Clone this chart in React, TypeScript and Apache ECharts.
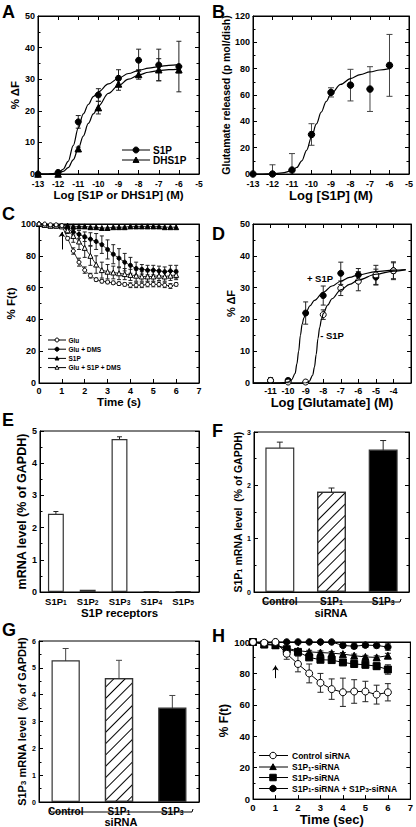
import React, { useEffect, useRef } from 'react';
import * as echarts from 'echarts';

const FONT = '"Liberation Sans", Arial, Helvetica, sans-serif';

// ---------- Panel A ----------
const A_X = [-13, -12, -11, -10, -9, -8, -7, -6];
const A_S1P = [0, 0.5, 16.5, 25, 30.3, 36, 34.5, 34];
const A_S1P_ERR = [0, 0, 2, 2, 2.7, 3.5, 5, 8];
const A_DHS1P = [0, 0, 8, 21, 28.5, 31.5, 33, 33];
const A_DHS1P_ERR = [0, 0, 0.5, 2, 2, 1.5, 3.5, 1];
const A_FIT_X = [-13, -12.5, -12, -11.75, -11.5, -11.25, -11, -10.75, -10.5, -10.25, -10, -9.5, -9, -8.5, -8, -7.5, -7, -6.5, -6];
const A_S1P_FIT = [0, 0, 0.3, 1.5, 4, 9, 14.5, 19, 22, 24.5, 26, 28.5, 30.3, 31.8, 32.8, 33.5, 34, 34.4, 34.6];
const A_DHS1P_FIT = [0, 0, 0.3, 0.8, 2, 4.5, 8, 12, 16, 19, 21.5, 25.5, 28, 30, 31.3, 32.2, 32.7, 33, 33.2];

// ---------- Panel B ----------
const B_X = [-13, -12, -11, -10, -9, -8, -7, -6];
const B_VAL = [0, 0, 3, 30, 62, 67.5, 64.5, 82.5];
const B_ERR = [0, 7, 12.5, 8.2, 3.5, 12, 17, 23.5];
const B_FIT_X = [-13, -12.5, -12, -11.5, -11, -10.75, -10.5, -10.25, -10, -9.75, -9.5, -9.25, -9, -8.5, -8, -7.5, -7, -6.5, -6];
const B_FIT = [0, 0, 0.2, 0.8, 2.5, 5, 10, 18, 28, 38, 47, 55, 61, 68, 72.5, 75.5, 77.5, 79, 80];

// ---------- Panel C ----------
const C_T = [0, 0.25, 0.5, 0.75, 1, 1.25, 1.5, 1.75, 2, 2.25, 2.5, 2.75, 3, 3.25, 3.5, 3.75, 4, 4.25, 4.5, 4.75, 5, 5.25, 5.5, 5.75, 6];
const C_GLU = [100, 100, 99.5, 99.5, 99, 91, 83, 76, 71, 67.5, 65, 64, 63.5, 63, 62.5, 62, 61.5, 61.5, 61.5, 62, 62, 62, 61.5, 61, 62];
const C_GLU_ERR = [0, 0, 0, 0, 0, 1, 2, 2.5, 2, 1.5, 1, 1, 1, 1, 1, 1, 1.5, 1.5, 1.5, 1.5, 1.5, 1.5, 1.5, 1.5, 1];
const C_DMS = [100, 99.5, 99, 99, 99, 97, 95, 93.5, 92, 90.5, 89, 87, 84, 81, 78.5, 76, 74, 72, 71.5, 71, 71, 70.5, 70, 70.5, 70];
const C_DMS_ERR = [0, 0, 0, 0, 0, 1.5, 2, 2.5, 3, 4, 5, 5.5, 6, 6, 6, 5.5, 5, 4, 3, 3, 3, 3, 3, 3.5, 4];
const C_S1P = [100, 99.5, 99, 99, 99, 99, 98.5, 98.5, 98.5, 98, 98, 97.5, 97.5, 98, 98, 98, 98.5, 98.5, 98.5, 98.5, 98.5, 98.5, 98, 98, 98];
const C_MIX = [100, 99.5, 99, 99, 98.5, 96, 92.5, 89, 85, 80, 74.5, 71, 70, 69.5, 69, 68.5, 68, 67.5, 67, 67, 67, 67.5, 67, 67.5, 68];
const C_MIX_ERR = [0, 0, 0, 0, 0, 2, 4, 5, 6, 6, 5.5, 5, 4.5, 4, 4, 3.5, 3.5, 3.5, 3, 3, 3, 3, 3, 3, 3];
const C_ARROW = [1, 84, 95];
const C_LEGEND = ['Glu', 'Glu + DMS', 'S1P', 'Glu + S1P + DMS'];

// ---------- Panel D ----------
const D_X = [-11, -10, -9, -8, -7, -6, -5, -4];
const D_MINUS = [0.8, 0.3, 0.3, 21.5, 29.8, 32, 34, 35.3];
const D_MINUS_ERR = [0.8, 0.5, 0.3, 1.5, 2.3, 3, 3, 2.8];
const D_PLUS = [0.8, 0.8, 22, 27.5, 34.5, 34, 33.3, 35.3];
const D_PLUS_ERR = [0.8, 0.5, 3.5, 3, 3.5, 2, 2.5, 2.5];
const D_PLUS_FIT_X = [-12, -10.5, -10, -9.8, -9.6, -9.5, -9.4, -9.3, -9.2, -9.1, -9, -8.75, -8.5, -8, -7.5, -7, -6.5, -6, -5, -4, -3.3];
const D_PLUS_FIT = [0, 0, 0.3, 1, 3, 6, 10, 15, 18.5, 20.5, 22, 24.3, 26, 28.5, 30.5, 32, 33.2, 34, 35, 35.5, 35.7];
const D_MINUS_FIT_X = [-12, -9, -8.8, -8.6, -8.5, -8.4, -8.3, -8.2, -8.1, -8, -7.75, -7.5, -7, -6.5, -6, -5, -4, -3.3];
const D_MINUS_FIT = [0, 0, 0.5, 2.5, 5, 9, 14, 17.5, 20, 21.8, 24.5, 26.5, 29.3, 31, 32.4, 34.2, 35.2, 35.6];

// ---------- Panel E ----------
const E_CATS = ['S1P1', 'S1P2', 'S1P3', 'S1P4', 'S1P5'];
const E_VAL = [2.43, 0.07, 4.75, 0.02, 0.02];
const E_ERR = [0.07, 0, 0.07, 0, 0];

// ---------- Panel F ----------
const F_CATS = ['Control', 'S1P1', 'S1P3'];
const F_VAL = [2.71, 1.88, 2.67];
const F_ERR = [0.1, 0.07, 0.17];

// ---------- Panel G ----------
const G_CATS = ['Control', 'S1P1', 'S1P3'];
const G_VAL = [5.28, 4.62, 3.52];
const G_ERR = [0.44, 0.66, 0.45];

// ---------- Panel H ----------
const H_T = [0, 0.5, 1, 1.5, 2, 2.5, 3, 3.5, 4, 4.5, 5, 5.5, 6];
const H_CTRL = [100, 99.5, 100, 92.5, 86, 80, 74, 70, 68, 68.5, 68.5, 66.5, 68];
const H_CTRL_ERR = [0, 0, 0, 3.5, 5, 6, 6, 6.5, 9, 7.5, 6.5, 6, 5.5];
const H_S1P1 = [100, 98.5, 98, 96, 94.5, 93.7, 93.3, 92.9, 92.3, 91.3, 90.5, 90.2, 91.3];
const H_S1P1_ERR = [0, 0, 0, 1, 1, 1, 1, 1, 1, 1, 1, 1, 1.5];
const H_S1P3 = [100, 98.5, 98, 95.4, 93.7, 90.2, 88.7, 88.5, 87, 86, 85.5, 84.6, 82.5];
const H_S1P3_ERR = [0, 0, 0, 1, 1.5, 1.5, 1, 1, 1.5, 1.5, 2, 2, 3];
const H_BOTH = [100, 99, 100, 100, 100, 100, 100, 100, 97.8, 97.3, 98, 97.8, 96.8];
const H_BOTH_ERR = [0, 0, 0, 0, 0, 0, 0, 0, 1, 1.5, 1.5, 1.5, 2];
const H_ARROW = [1, 77, 85];
const H_LEGEND = ['Control siRNA', 'S1P{s|1}-siRNA', 'S1P{s|3}-siRNA', 'S1P{s|1}-siRNA + S1P{s|3}-siRNA'];

// ---------- layout ----------
const GRIDS = [
  { left: 38, top: 16, width: 161, height: 158 },
  { left: 253, top: 16, width: 159, height: 158 },
  { left: 39, top: 224, width: 160, height: 159 },
  { left: 253, top: 224, width: 158, height: 159 },
  { left: 40, top: 431, width: 159, height: 161 },
  { left: 254, top: 432, width: 155, height: 160 },
  { left: 39, top: 641, width: 160, height: 161 },
  { left: 253, top: 642, width: 160, height: 159 },
];

const subStyle = (fs: number) => ({
  fontSize: fs, fontFamily: FONT, fontWeight: 'bold', color: '#000', verticalAlign: 'bottom', lineHeight: fs,
});
const subText = (s: string) => s.replace(/(\d)$/, '{s|$1}');

function valueAxis(gi: number, position: string, c: any, main: boolean) {
  const isY = position === 'left' || position === 'right';
  return {
    type: 'value', gridIndex: gi, position, min: c.min, max: c.max, interval: c.interval,
    axisLine: { show: true, onZero: false, lineStyle: { color: '#000', width: 1 } },
    axisTick: { show: true, inside: true, length: 4, lineStyle: { color: '#000', width: 1 } },
    minorTick: { show: !!c.minor, splitNumber: c.minor || 2, length: 2.5, lineStyle: { color: '#000', width: 1 } },
    splitLine: { show: false },
    axisLabel: main
      ? { show: true, color: '#000', fontFamily: FONT, fontWeight: 'bold', fontSize: c.fs ?? 9, margin: c.margin ?? 3, formatter: c.fmt }
      : { show: false },
    name: main ? c.name : '',
    nameLocation: 'middle', nameGap: c.gap ?? 15, nameRotate: isY ? 90 : 0,
    nameTextStyle: { color: '#000', fontFamily: FONT, fontWeight: 'bold', fontSize: c.nfs ?? 11.5, rich: { s: subStyle((c.nfs ?? 11.5) * 0.7) } },
    silent: true,
  };
}

function catAxis(gi: number, cats: string[], main: boolean, c: any) {
  return {
    type: 'category', gridIndex: gi, position: main ? 'bottom' : 'top', data: cats, boundaryGap: true, show: main,
    axisLine: { show: true, lineStyle: { color: '#000', width: 1 } },
    axisTick: { show: false },
    axisLabel: {
      color: '#000', fontFamily: FONT, fontWeight: 'bold', fontSize: c.fs, margin: c.margin ?? 4, interval: 0,
      formatter: (v: string) => subText(v), rich: { s: subStyle(c.fs * 0.7) },
    },
    name: c.name, nameLocation: 'middle', nameGap: c.gap ?? 14,
    nameTextStyle: { color: '#000', fontFamily: FONT, fontWeight: 'bold', fontSize: c.nfs ?? 11.5 },
    silent: true,
  };
}

const pairs = (xs: number[], ys: number[]) => xs.map((x, i) => [x, ys[i]]);
const errData = (xs: number[], ys: number[], es: number[]) =>
  xs.map((x, i) => [x, ys[i] - es[i], ys[i] + es[i]]).filter((_, i) => es[i] > 0);

function errSeries(gi: number, data: number[][], cap: number, color = '#222') {
  return {
    type: 'custom', xAxisIndex: gi * 2, yAxisIndex: gi * 2, data, clip: true, silent: true,
    encode: { x: 0, y: [1, 2] },
    renderItem: (_p: any, api: any) => {
      const x = api.value(0), lo = api.value(1), hi = api.value(2);
      const a = api.coord([x, lo]);
      const b = api.coord([x, hi]);
      const st = { stroke: color, lineWidth: 1 };
      return {
        type: 'group',
        children: [
          { type: 'line', shape: { x1: a[0], y1: a[1], x2: b[0], y2: b[1] }, style: st },
          { type: 'line', shape: { x1: a[0] - cap, y1: a[1], x2: a[0] + cap, y2: a[1] }, style: st },
          { type: 'line', shape: { x1: b[0] - cap, y1: b[1], x2: b[0] + cap, y2: b[1] }, style: st },
        ],
      };
    },
  };
}

function pts(gi: number, data: number[][], symbol: string, filled: boolean, size: number) {
  return {
    type: 'scatter', xAxisIndex: gi * 2, yAxisIndex: gi * 2, data, symbol, symbolSize: size, silent: true,
    itemStyle: { color: filled ? '#000' : '#fff', borderColor: '#000', borderWidth: 1, opacity: 1 },
  };
}

function fit(gi: number, data: number[][]) {
  return {
    type: 'line', xAxisIndex: gi * 2, yAxisIndex: gi * 2, data, smooth: 0.35, smoothMonotone: 'x',
    showSymbol: false, symbol: 'none', silent: true, lineStyle: { color: '#000', width: 1.2 },
  };
}

function markedLine(gi: number, data: number[][], symbol: string, filled: boolean, size: number, lw: number, extra: any = {}) {
  return {
    type: 'line', xAxisIndex: gi * 2, yAxisIndex: gi * 2, data, symbol, symbolSize: size, showSymbol: true, showAllSymbol: true,
    silent: true, lineStyle: { color: '#000', width: lw },
    itemStyle: { color: filled ? '#000' : '#fff', borderColor: '#000', borderWidth: 1 },
    ...extra,
  };
}

function arrowMark(a: number[]) {
  return {
    markLine: {
      silent: true, symbol: ['none', 'arrow'], symbolSize: 5, animation: false,
      lineStyle: { color: '#000', width: 1, type: 'solid' }, label: { show: false },
      data: [[{ coord: [a[0], a[1]] }, { coord: [a[0], a[2]] }]],
    },
  };
}

function markerEl(kind: string, cx: number, cy: number, s: number) {
  const r = s / 2;
  const fillOf = (k: string) => (k.startsWith('o') ? '#fff' : '#000');
  const style = { fill: fillOf(kind), stroke: '#000', lineWidth: 1 };
  if (kind === 'circle' || kind === 'ocircle') return { type: 'circle', shape: { cx, cy, r }, style };
  if (kind === 'tri' || kind === 'otri')
    return { type: 'polygon', shape: { points: [[cx, cy - r], [cx + r, cy + r * 0.8], [cx - r, cy + r * 0.8]] }, style };
  return { type: 'rect', shape: { x: cx - r, y: cy - r, width: s, height: s }, style };
}

function legendRows(rows: { y: number; kind: string; label: string }[], x1: number, x2: number, mx: number, tx: number, fs: number, ms: number) {
  const els: any[] = [];
  rows.forEach((r) => {
    els.push({ type: 'line', shape: { x1, y1: r.y, x2, y2: r.y }, style: { stroke: '#000', lineWidth: 1 } });
    els.push(markerEl(r.kind, mx, r.y, ms));
    els.push({
      type: 'text', x: tx, y: r.y,
      style: {
        text: r.label, fontSize: fs, fontWeight: 'bold', fontFamily: FONT, fill: '#000', verticalAlign: 'middle', align: 'left',
        rich: { s: { fontSize: fs * 0.7, fontWeight: 'bold', fontFamily: FONT, fill: '#000', verticalAlign: 'bottom', lineHeight: fs * 0.7 } },
      },
    });
  });
  return els;
}

const textEl = (text: string, x: number, y: number, fs: number, align = 'left') => ({
  type: 'text', x, y, silent: true,
  style: { text, fontSize: fs, fontWeight: 'bold', fontFamily: FONT, fill: '#000', verticalAlign: 'middle', align },
});

const HATCH = {
  symbol: 'rect', symbolSize: 1, dashArrayX: [1, 0], dashArrayY: [1, 7], rotation: -Math.PI / 4,
  color: '#000', backgroundColor: '#fff',
};

function buildOption() {
  const grid = GRIDS.map((g) => ({ ...g, show: true, borderColor: '#000', borderWidth: 1, backgroundColor: 'rgba(0,0,0,0)' }));

  const xCfg: any[] = [
    { min: -13, max: -5, interval: 1, name: 'Log [S1P or DHS1P] (M)', gap: 13, nfs: 11.5, fs: 8.5, margin: 5 },
    { min: -13, max: -5, interval: 1, name: 'Log [S1P] (M)', gap: 13, nfs: 13, fs: 9, margin: 5 },
    { min: 0, max: 7, interval: 1, name: 'Time (s)', gap: 12, nfs: 11.5, fs: 9 },
    { min: -12, max: -3, interval: 1, name: 'Log [Glutamate] (M)', gap: 12, nfs: 13, fs: 9, fmt: (v: number) => (v === -12 || v === -3 ? '' : String(v)) },
    null, null, null,
    { min: 0, max: 7, interval: 1, name: 'Time (sec)', gap: 12, nfs: 13, fs: 9.5 },
  ];
  const yCfg: any[] = [
    { min: 0, max: 50, interval: 10, minor: 2, name: '% ΔF', gap: 14, nfs: 11.5, fs: 9 },
    { min: 0, max: 120, interval: 20, minor: 2, name: 'Glutamate released (p mol/dish)', gap: 15, nfs: 10.5, fs: 9 },
    { min: 0, max: 100, interval: 20, minor: 2, name: '% F(t)', gap: 16, nfs: 11.5, fs: 9 },
    { min: 0, max: 50, interval: 10, minor: 2, name: '% ΔF', gap: 14, nfs: 11, fs: 9 },
    { min: 0, max: 5, interval: 1, minor: 2, name: 'mRNA level (% of GAPDH)', gap: 8, nfs: 12.5, fs: 9 },
    { min: 0, max: 3, interval: 1, minor: 2, name: 'S1P{s|1} mRNA level  (% of GAPDH)', gap: 11, nfs: 10.5, fs: 7 },
    { min: 0, max: 6, interval: 1, minor: 2, name: 'S1P{s|3} mRNA level  (% of GAPDH)', gap: 12, nfs: 11, fs: 7 },
    { min: 0, max: 100, interval: 20, minor: 2, name: '% F(t)', gap: 15, nfs: 12, fs: 9.5 },
  ];
  const catCfg: any = {
    4: { cats: E_CATS, fs: 9.5, name: 'S1P receptors', gap: 14, nfs: 11.5 },
    5: { cats: F_CATS, fs: 10 },
    6: { cats: G_CATS, fs: 10 },
  };

  const xAxis: any[] = [];
  const yAxis: any[] = [];
  for (let gi = 0; gi < 8; gi++) {
    if (catCfg[gi]) {
      xAxis.push(catAxis(gi, catCfg[gi].cats, true, catCfg[gi]));
      xAxis.push(catAxis(gi, catCfg[gi].cats, false, catCfg[gi]));
    } else {
      xAxis.push(valueAxis(gi, 'bottom', xCfg[gi], true));
      xAxis.push(valueAxis(gi, 'top', xCfg[gi], false));
    }
    yAxis.push(valueAxis(gi, 'left', yCfg[gi], true));
    yAxis.push(valueAxis(gi, 'right', yCfg[gi], false));
  }

  const barStyle = { color: '#fff', borderColor: '#333', borderWidth: 1.2 };
  const idx = (a: any[]) => a.map((_, i) => i);

  const series: any[] = [
    // A
    fit(0, pairs(A_FIT_X, A_S1P_FIT)),
    fit(0, pairs(A_FIT_X, A_DHS1P_FIT)),
    errSeries(0, errData(A_X, A_S1P, A_S1P_ERR), 2.5),
    errSeries(0, errData(A_X, A_DHS1P, A_DHS1P_ERR), 2.5),
    pts(0, pairs(A_X, A_DHS1P), 'triangle', true, 6.5),
    pts(0, pairs(A_X, A_S1P), 'circle', true, 6),
    // B
    fit(1, pairs(B_FIT_X, B_FIT)),
    errSeries(1, errData(B_X, B_VAL, B_ERR), 3, '#444'),
    pts(1, pairs(B_X, B_VAL), 'circle', true, 6.5),
    // C
    errSeries(2, errData(C_T, C_GLU, C_GLU_ERR), 2),
    errSeries(2, errData(C_T, C_DMS, C_DMS_ERR), 2),
    errSeries(2, errData(C_T, C_MIX, C_MIX_ERR), 2),
    markedLine(2, pairs(C_T, C_S1P), 'triangle', true, 5, 0.8),
    markedLine(2, pairs(C_T, C_DMS), 'circle', true, 4, 0.8),
    markedLine(2, pairs(C_T, C_MIX), 'triangle', false, 5, 0.8),
    markedLine(2, pairs(C_T, C_GLU), 'circle', false, 4, 0.8, arrowMark(C_ARROW)),
    // D
    fit(3, pairs(D_PLUS_FIT_X, D_PLUS_FIT)),
    fit(3, pairs(D_MINUS_FIT_X, D_MINUS_FIT)),
    errSeries(3, errData(D_X, D_PLUS, D_PLUS_ERR), 2.5),
    errSeries(3, errData(D_X, D_MINUS, D_MINUS_ERR), 2.5),
    pts(3, pairs(D_X, D_PLUS), 'circle', true, 6),
    pts(3, pairs(D_X, D_MINUS), 'circle', false, 6),
    // E
    { type: 'bar', xAxisIndex: 8, yAxisIndex: 8, data: E_VAL, barWidth: '50%', itemStyle: barStyle, silent: true },
    errSeries(4, errData(idx(E_CATS), E_VAL, E_ERR), 2.5),
    // F
    {
      type: 'bar', xAxisIndex: 10, yAxisIndex: 10, barWidth: '56%', silent: true,
      data: F_VAL.map((v, i) => ({ value: v, itemStyle: i === 0 ? barStyle : i === 1 ? { ...barStyle, decal: HATCH } : { ...barStyle, color: '#000' } })),
    },
    errSeries(5, errData(idx(F_CATS), F_VAL, F_ERR), 3),
    // G
    {
      type: 'bar', xAxisIndex: 12, yAxisIndex: 12, barWidth: '53%', silent: true,
      data: G_VAL.map((v, i) => ({ value: v, itemStyle: i === 0 ? barStyle : i === 1 ? { ...barStyle, decal: HATCH } : { ...barStyle, color: '#000' } })),
    },
    errSeries(6, errData(idx(G_CATS), G_VAL, G_ERR), 3, '#444'),
    // H
    errSeries(7, errData(H_T, H_CTRL, H_CTRL_ERR), 3),
    errSeries(7, errData(H_T, H_S1P1, H_S1P1_ERR), 3),
    errSeries(7, errData(H_T, H_S1P3, H_S1P3_ERR), 3),
    errSeries(7, errData(H_T, H_BOTH, H_BOTH_ERR), 3),
    markedLine(7, pairs(H_T, H_BOTH), 'circle', true, 6.5, 1),
    markedLine(7, pairs(H_T, H_S1P1), 'triangle', true, 7, 1),
    markedLine(7, pairs(H_T, H_S1P3), 'rect', true, 7, 1),
    markedLine(7, pairs(H_T, H_CTRL), 'circle', false, 7, 1, arrowMark(H_ARROW)),
  ];

  const letters = [
    ['A', 2, 11.5], ['B', 212, 11.5], ['C', 2, 214], ['D', 212, 234],
    ['E', 2, 419.5], ['F', 212, 431], ['G', 2, 629.5], ['H', 212, 636],
  ].map(([t, x, y]) => textEl(t as string, x as number, y as number, 18));

  const graphic: any[] = [
    ...letters,
    ...legendRows([
      { y: 150, kind: 'circle', label: 'S1P' },
      { y: 160, kind: 'tri', label: 'DHS1P' },
    ], 122, 150, 136, 153, 10, 6),
    ...legendRows([
      { y: 340, kind: 'ocircle', label: C_LEGEND[0] },
      { y: 349.2, kind: 'circle', label: C_LEGEND[1] },
      { y: 358.4, kind: 'tri', label: C_LEGEND[2] },
      { y: 367.6, kind: 'otri', label: C_LEGEND[3] },
    ], 48, 66, 57, 68.5, 6.5, 4),
    ...legendRows([
      { y: 755.5, kind: 'ocircle', label: H_LEGEND[0] },
      { y: 767, kind: 'tri', label: H_LEGEND[1] },
      { y: 777.5, kind: 'rect', label: H_LEGEND[2] },
      { y: 788.5, kind: 'circle', label: H_LEGEND[3] },
    ], 259, 288, 273, 292, 8.5, 6.5),
    textEl('+ S1P', 320, 278, 9.5, 'center'),
    textEl('- S1P', 332, 335, 9.5, 'center'),
    { type: 'polyline', shape: { points: [[263, 599], [264, 602], [400, 602], [401, 599]] }, style: { stroke: '#000', lineWidth: 1, fill: 'none' } },
    textEl('siRNA', 331, 612.5, 11, 'center'),
    { type: 'polyline', shape: { points: [[50, 809], [51, 812], [192, 812], [193, 809]] }, style: { stroke: '#000', lineWidth: 1, fill: 'none' } },
    textEl('siRNA', 121, 821.5, 11, 'center'),
  ];

  return {
    animation: false,
    backgroundColor: '#fff',
    textStyle: { fontFamily: FONT },
    grid, xAxis, yAxis, series, graphic,
  };
}

export default function App() {
  const ref = useRef<HTMLDivElement>(null);
  useEffect(() => {
    const chart = echarts.init(ref.current!, null, { renderer: 'svg' });
    chart.setOption(buildOption() as any);
    return () => chart.dispose();
  }, []);
  return <div ref={ref} style={{ position: 'absolute', left: 0, top: 0, width: 416, height: 827, background: '#fff' }} />;
}
